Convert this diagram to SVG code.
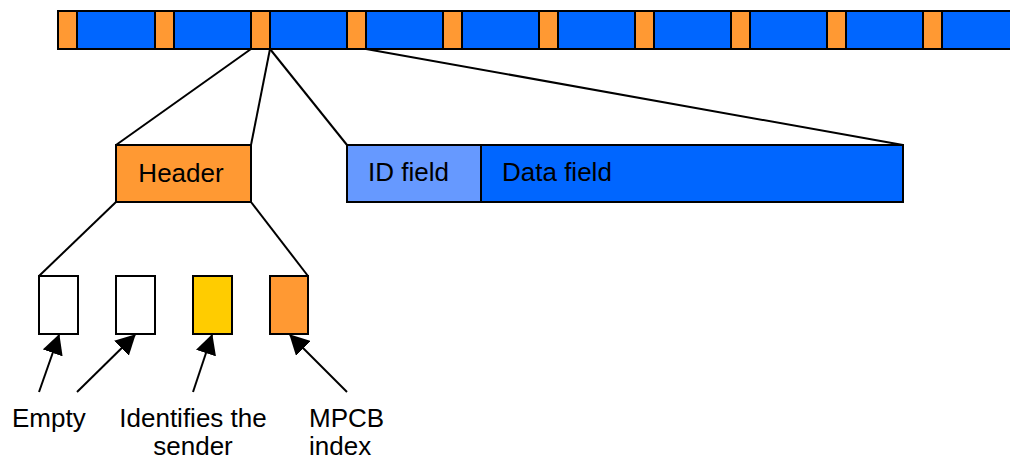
<svg xmlns="http://www.w3.org/2000/svg" width="1010" height="459" viewBox="0 0 1010 459">
<style>
.o{fill:#FF9933;stroke:#000;stroke-width:2}
.b{fill:#0066FF;stroke:#000;stroke-width:2}
.lb{fill:#6699FF;stroke:#000;stroke-width:2}
.w{fill:#FFFFFF;stroke:#000;stroke-width:2}
.y{fill:#FFCC00;stroke:#000;stroke-width:2}
.ln{stroke:#000;stroke-width:2;fill:none}
.t{font-family:"Liberation Sans",Arial,sans-serif;font-size:26px;fill:#000}
</style>
<defs>
<marker id="ah" viewBox="0 0 20 21" refX="19" refY="10.5" markerWidth="20" markerHeight="21" markerUnits="userSpaceOnUse" orient="auto">
<path d="M0,0 L20,10.5 L0,21 Z" fill="#000"/>
</marker>
</defs>
<g id="bar">
<rect class="b" x="58" y="11" width="960" height="38"/>
<rect class="o" x="58" y="11" width="19" height="38"/>
<rect class="o" x="155" y="11" width="19" height="38"/>
<rect class="o" x="251" y="11" width="19" height="38"/>
<rect class="o" x="347" y="11" width="19" height="38"/>
<rect class="o" x="443" y="11" width="19" height="38"/>
<rect class="o" x="539" y="11" width="19" height="38"/>
<rect class="o" x="635" y="11" width="19" height="38"/>
<rect class="o" x="731" y="11" width="19" height="38"/>
<rect class="o" x="827" y="11" width="19" height="38"/>
<rect class="o" x="923" y="11" width="19" height="38"/>
</g>
<g id="header">
<rect class="o" x="116" y="145" width="135" height="57"/>
<text class="t" x="181" y="182" text-anchor="middle">Header</text>
</g>
<g id="idfield">
<rect class="lb" x="347" y="145" width="134" height="57"/>
<text class="t" x="368" y="181">ID field</text>
</g>
<g id="datafield">
<rect class="b" x="481" y="145" width="422" height="57"/>
<text class="t" x="502" y="181">Data field</text>
</g>
<g id="bit1"><rect class="w" x="39" y="276" width="39" height="58"/></g>
<g id="bit2"><rect class="w" x="116" y="276" width="39" height="58"/></g>
<g id="bit3"><rect class="y" x="193" y="276" width="39" height="58"/></g>
<g id="bit4"><rect class="o" x="270" y="276" width="38" height="58"/></g>
<g id="labels">
<text class="t" x="12" y="427">Empty</text>
<text class="t" x="193" y="427" text-anchor="middle">Identifies the</text>
<text class="t" x="193" y="455" text-anchor="middle">sender</text>
<text class="t" x="309" y="427">MPCB</text>
<text class="t" x="309" y="455">index</text>
</g>
<g id="connectors">
<line class="ln" x1="251" y1="49" x2="116" y2="145"/>
<line class="ln" x1="270" y1="49" x2="251" y2="145"/>
<line class="ln" x1="270" y1="49" x2="347" y2="145"/>
<line class="ln" x1="366" y1="49" x2="903" y2="145"/>
<line class="ln" x1="116" y1="202" x2="39" y2="276"/>
<line class="ln" x1="251" y1="202" x2="308" y2="276"/>
<line class="ln" x1="39" y1="392" x2="59" y2="335" marker-end="url(#ah)"/>
<line class="ln" x1="77" y1="392" x2="135" y2="335" marker-end="url(#ah)"/>
<line class="ln" x1="193" y1="392" x2="212" y2="335" marker-end="url(#ah)"/>
<line class="ln" x1="347" y1="392" x2="290" y2="335" marker-end="url(#ah)"/>
</g>
</svg>
